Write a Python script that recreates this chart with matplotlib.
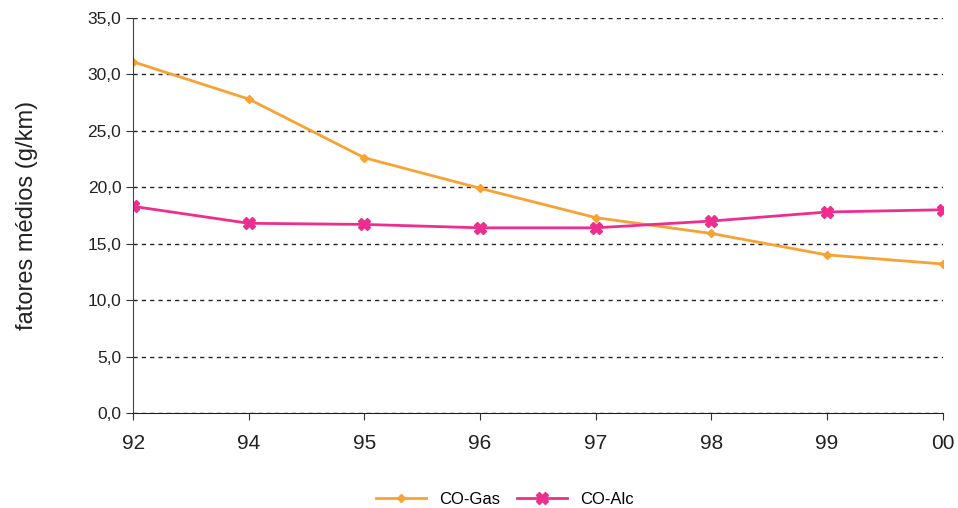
import matplotlib.pyplot as plt
import numpy as np

anos = ['92', '94', '95', '96', '97', '98', '99', '00']
coGas = [31.1, 27.8, 22.6, 19.9, 17.3, 15.9, 14.0, 13.2]
coAlc = [18.3, 16.8, 16.7, 16.4, 16.4, 17.0, 17.8, 18.0]

plt.rcParams['font.family'] = ['Liberation Sans', 'DejaVu Sans']

fig = plt.figure(figsize=(9.58, 5.08), dpi=100)
ax = fig.add_axes([0.139, 0.187, 0.845, 0.778])

x = np.arange(len(anos))
ax.plot(x, coGas, color='#F7A233', marker='D', markersize=4, linewidth=2, label='CO-Gas')
ax.plot(x, coAlc, color='#EE2E8E', marker='X', markersize=8, linewidth=2, label='CO-Alc')

ax.set_ylim(0, 35)
ax.set_xlim(0, len(anos) - 1)
ax.set_yticks(np.arange(0, 36, 5))
ax.set_yticklabels([('%.1f' % v).replace('.', ',') for v in np.arange(0, 36, 5)], fontsize=12.5, color='#222222')
ax.set_xticks(x)
ax.set_xticklabels(anos, fontsize=15, color='#222222')
ax.tick_params(axis='x', pad=10, length=5, color='#333333')
ax.tick_params(axis='y', length=5, color='#333333')
ax.yaxis.grid(True, linestyle=(0, (3, 3)), color='#222222', linewidth=1)
ax.set_axisbelow(True)
for s in ['top', 'right']:
	ax.spines[s].set_visible(False)
ax.spines['left'].set_color('#444444')
ax.spines['bottom'].set_color('#222222')
ax.set_ylabel('fatores médios (g/km)', fontsize=17, color='#222222')
ax.yaxis.set_label_coords(-0.118, 0.5)

fig.legend(loc='lower center', bbox_to_anchor=(0.527, -0.027), ncol=2, frameon=False,
	fontsize=12, handlelength=3, columnspacing=1)

plt.savefig('out.png', dpi=100)
